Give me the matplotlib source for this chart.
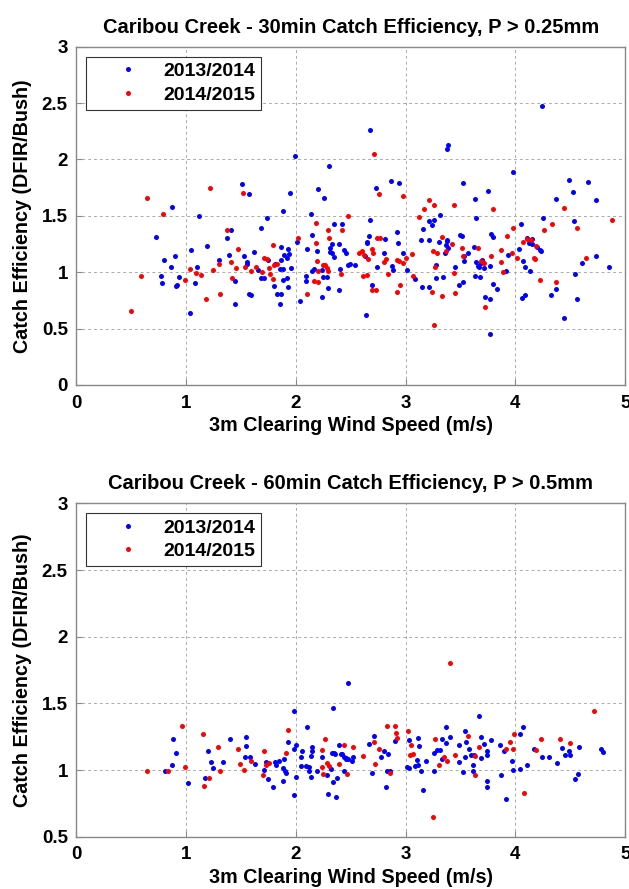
import matplotlib
matplotlib.use('Agg')
import matplotlib.pyplot as plt

plt.rcParams['font.family'] = ['Liberation Sans', 'DejaVu Sans']
plt.rcParams['font.weight'] = 'bold'

# ---- 30 min, P > 0.25mm ----
b30_x = [1.99, 2.30, 1.51, 1.575, 1.945, 2.20, 2.26, 0.87, 1.12, 1.885, 1.74, 2.14, 2.35, 2.42, 1.68, 1.41, 0.73, 1.37, 2.15,
         1.19, 1.05, 1.62, 1.87, 1.925, 2.01, 2.10, 2.19, 2.33, 2.39, 2.31, 2.31, 2.33, 2.35, 2.44, 2.46, 2.48, 0.80, 0.90, 0.86,
         0.77, 0.78, 0.94, 0.91, 0.92, 1.10, 1.08, 1.305, 1.04, 1.39, 1.45, 1.45, 1.53, 1.56, 1.555, 1.57, 1.59, 1.66, 1.68, 1.71,
         1.745, 1.815, 1.86, 1.88, 1.87, 1.895, 1.92, 1.94, 1.80, 1.83, 1.87, 1.86, 1.88, 1.92, 1.93, 1.96, 2.04, 2.09, 2.09, 2.15,
         2.17, 2.24, 2.25, 2.28, 2.29, 2.24, 2.40, 2.39,
         2.68, 3.375, 3.39, 4.245, 3.98, 2.73, 2.87, 2.94, 3.52, 3.63, 3.75, 3.31, 3.21, 3.24, 3.26, 3.155, 3.645, 4.37, 4.49, 4.52,
         4.66, 4.73, 4.25, 4.53, 4.05, 4.11, 4.15, 2.68, 2.67, 2.92, 2.81, 3.50, 3.51, 3.78, 3.80, 3.14, 3.21, 3.38,
         2.49, 2.54, 2.64, 2.65, 2.65, 2.63, 2.69, 2.74, 2.80, 2.88, 2.89, 2.93, 2.98, 3.01, 3.09, 3.28, 3.30, 3.38, 3.37, 3.39,
         3.36, 3.28, 3.34, 3.15, 3.21, 3.45, 3.49, 3.52, 3.53, 3.57, 3.53, 3.62, 3.645, 3.67, 3.69, 3.70, 3.71, 3.66, 3.63, 3.68,
         3.72, 3.765, 3.765, 3.765, 3.80, 3.83, 3.91, 3.935, 4.03, 4.07, 4.085, 4.13, 4.12, 4.15, 4.20, 4.22, 4.23, 4.06, 4.09,
         4.37, 4.32, 4.44, 4.61, 4.54, 4.56, 4.73, 4.85]
b30_y = [2.03, 1.94, 1.78, 1.69, 1.70, 1.74, 1.655, 1.58, 1.50, 1.54, 1.48, 1.52, 1.43, 1.43, 1.39, 1.37, 1.31, 1.30, 1.33,
         1.23, 1.20, 1.18, 1.22, 1.21, 1.27, 1.21, 1.19, 1.25, 1.25, 1.215, 1.18, 1.17, 1.135, 1.20, 1.17, 1.066, 1.105, 1.14, 1.05,
         0.966, 0.90, 0.96, 0.88, 0.89, 1.05, 0.90, 1.105, 0.64, 1.15, 0.92, 0.715, 1.14, 1.09, 1.07, 0.81, 0.80, 1.02, 0.95, 0.95,
         1.11, 1.07, 1.03, 1.026, 1.11, 1.15, 1.13, 1.16, 0.88, 0.81, 0.807, 0.72, 0.93, 0.95, 0.866, 1.04, 0.74, 0.966, 0.92, 1.008,
         1.03, 1.02, 0.955, 0.955, 0.86, 0.78, 1.03, 0.84,
         2.26, 2.09, 2.13, 2.47, 1.89, 1.75, 1.806, 1.79, 1.79, 1.65, 1.72, 1.51, 1.45, 1.42, 1.466, 1.38, 1.48, 1.646, 1.82, 1.71,
         1.80, 1.64, 1.48, 1.45, 1.43, 1.30, 1.294, 1.466, 1.32, 1.36, 1.29, 1.33, 1.32, 1.336, 1.315, 1.285, 1.285, 1.285,
         1.07, 1.06, 0.62, 1.27, 1.256, 1.14, 0.89, 1.05, 1.17, 1.055, 1.02, 1.26, 1.17, 1.02, 0.94, 1.066, 1.265, 1.277, 1.24, 1.217,
         1.17, 0.95, 0.957, 0.87, 0.866, 1.046, 0.884, 0.913, 1.10, 1.17, 1.14, 1.223, 1.09, 1.043, 1.084, 1.105, 1.035, 1.058, 0.964, 0.957,
         0.78, 0.76, 0.45, 1.055, 0.895, 0.85, 1.008, 1.15, 1.206, 1.10, 1.043, 1.01, 1.26, 1.25, 1.226, 1.197, 1.19, 0.774, 0.795,
         0.854, 0.80, 0.594, 1.084, 0.98, 0.765, 1.14, 1.046]
r30_x = [1.22, 1.52, 0.65, 0.79, 2.18, 2.48, 2.29, 2.42, 1.37, 2.02, 2.30,
         1.47, 1.79, 2.18, 0.595, 0.99, 1.04, 1.09, 1.14, 1.18, 1.25, 1.305, 1.31, 0.50, 1.41, 1.42, 1.46, 1.535, 1.59, 1.64, 1.69,
         1.71, 1.74, 1.755, 1.764, 1.79, 1.80, 1.83, 2.10, 2.17, 2.20, 2.20, 2.195, 2.25, 2.27, 2.285, 2.29, 2.415,
         2.71, 2.76, 2.98, 3.795, 3.445, 3.215, 3.26, 3.17, 3.12, 4.44, 4.88, 4.33, 4.26, 4.56, 3.98, 3.92, 2.74, 2.77, 3.33,
         2.62, 2.66, 2.575, 2.60, 2.69, 2.70, 2.61, 2.65, 2.69, 2.73, 2.80, 2.82, 2.84, 2.92, 2.94, 2.92, 2.95, 2.98, 3.00, 3.06,
         3.07, 3.25, 3.29, 3.27, 3.24, 3.33, 3.26, 3.37, 3.42, 3.44, 3.45, 3.51, 3.52, 3.655, 3.69, 3.71, 3.72, 3.78, 3.87, 3.87,
         3.89, 3.965, 4.01, 4.07, 4.11, 4.14, 4.19, 4.17, 4.18, 4.22, 4.37, 4.645]
r30_y = [1.75, 1.70, 1.655, 1.52, 1.44, 1.50, 1.37, 1.37, 1.37, 1.30, 1.30,
         1.21, 1.24, 1.256, 0.97, 0.93, 1.03, 0.99, 0.975, 0.76, 1.017, 1.07, 0.807, 0.66, 1.09, 0.95, 1.035, 1.043, 1.008, 1.05, 1.00,
         1.13, 1.12, 1.035, 0.984, 0.94, 1.06, 1.07, 0.81, 0.92, 0.916, 1.013, 1.10, 1.06, 1.06, 1.035, 1.013, 0.98,
         2.05, 1.69, 1.68, 1.56, 1.60, 1.64, 1.60, 1.56, 1.49, 1.57, 1.46, 1.425, 1.37, 1.39, 1.395, 1.32, 1.306, 1.306, 1.31,
         1.15, 1.12, 1.17, 1.19, 1.205, 1.17, 0.97, 0.975, 0.84, 0.84, 1.09, 1.12, 0.98, 1.11, 1.10, 0.82, 0.89, 1.085, 1.13, 1.16,
         0.97, 1.19, 1.17, 1.046, 0.82, 0.79, 0.53, 1.19, 1.25, 0.996, 0.816, 1.217, 1.146, 1.215, 1.10, 1.08, 0.69, 1.14, 1.20, 1.09,
         1.005, 1.17, 1.126, 1.27, 1.29, 1.288, 1.232, 1.13, 1.114, 0.93, 0.916, 1.13]

# ---- 60 min, P > 0.5mm ----
b60_x = [2.48, 1.98, 2.34, 0.88, 0.91, 0.87, 0.81, 1.02, 1.17, 1.20, 1.23, 1.25, 1.34, 1.40, 1.55, 1.55, 1.535, 1.58, 1.63,
         1.73, 1.71, 1.75, 1.79, 1.81, 1.85, 1.82, 1.89, 1.88, 1.90, 1.91, 1.88, 1.93, 1.98, 2.00, 2.00, 1.98, 2.05, 2.06, 2.10,
         2.05, 2.09, 2.12, 2.135, 2.12, 2.15, 2.15, 2.135, 2.24, 2.195, 2.28, 2.32, 2.33, 2.35, 2.34, 2.29, 2.37, 2.38, 2.39, 2.36,
         2.42, 2.44, 2.46, 2.48, 2.44,
         3.67, 2.90, 2.71, 2.67, 2.80, 2.84, 2.78, 2.415, 2.46, 2.52, 2.51, 2.69, 2.82, 2.83, 2.86, 3.03, 3.11, 3.12, 3.10, 3.01,
         3.03, 3.11, 3.085, 3.14, 3.16, 3.19, 3.26, 3.26, 3.29, 3.31, 3.33, 3.33, 3.37, 3.40, 3.37, 3.49, 3.49, 3.52, 3.54, 3.55,
         3.58, 3.54, 3.60, 3.62, 3.61, 3.61, 3.69, 3.71, 3.74, 3.74, 3.69, 3.78, 3.74, 3.745, 3.86, 3.90, 3.87, 3.91, 3.97, 3.98,
         4.04, 4.07, 4.04, 4.11, 4.17, 4.245, 4.31, 4.38, 4.42, 4.49, 4.45, 4.495, 4.58, 4.57, 4.54, 4.78, 4.795]
b60_y = [1.655, 1.44, 1.465, 1.23, 1.13, 1.04, 0.99, 0.90, 0.94, 1.14, 1.06, 1.015, 1.06, 1.23, 1.25, 1.18, 1.095, 1.10, 1.045,
         1.06, 0.998, 0.935, 0.87, 1.06, 1.07, 1.035, 1.085, 1.015, 0.99, 0.975, 0.92, 1.21, 1.16, 1.19, 0.95, 0.815, 1.10, 1.14, 1.325,
         1.03, 1.03, 1.025, 0.945, 0.99, 1.17, 1.14, 1.105, 1.10, 0.99, 0.96, 1.007, 1.13, 1.125, 0.91, 0.82, 0.80, 0.94, 1.19, 1.12,
         1.12, 1.095, 1.08, 1.08, 0.995,
         1.405, 1.22, 1.255, 1.195, 1.14, 1.12, 1.095, 1.12, 1.09, 1.10, 1.07, 0.975, 0.87, 0.99, 0.99, 1.225, 1.24, 1.18, 1.075, 1.02,
         1.013, 1.04, 1.03, 0.995, 0.85, 1.07, 0.995, 1.13, 1.15, 1.15, 1.23, 1.085, 1.32, 1.25, 1.205, 1.19, 1.06, 0.987, 1.29, 1.21,
         1.16, 1.10, 1.11, 1.11, 1.035, 0.995, 1.245, 1.195, 1.14, 1.11, 1.09, 1.225, 0.915, 0.875, 1.185, 1.14, 0.96, 0.78, 1.07, 1.002,
         1.27, 1.32, 1.005, 1.035, 1.16, 1.10, 1.10, 1.055, 1.165, 1.14, 1.11, 1.11, 1.17, 0.97, 0.93, 1.16, 1.135]
r60_x = [0.96, 1.156, 0.65, 0.84, 0.99, 1.16, 1.21, 1.29, 1.31, 1.47, 1.49, 1.53, 1.59, 1.715, 1.73, 1.755, 1.70, 1.915, 1.93,
         2.24, 2.27, 2.24, 2.25, 2.28, 2.30, 2.39, 2.44, 2.47,
         3.40, 4.72, 2.83, 2.905, 2.91, 2.92, 2.71, 2.76, 2.61, 2.52, 2.72, 2.86, 3.02, 3.05, 3.04, 3.07, 3.25, 3.27, 3.35, 3.38,
         3.30, 3.45, 3.57, 3.63, 3.63, 3.67, 3.91, 3.95, 3.975, 3.99, 4.08, 4.23, 4.19, 4.41, 4.495]
r60_y = [1.33, 1.27, 0.99, 0.99, 1.02, 0.88, 0.94, 1.17, 0.995, 1.16, 1.045, 1.002, 1.07, 1.14, 1.04, 1.05, 0.965, 1.13, 1.30,
         1.15, 1.23, 1.025, 0.97, 1.05, 1.03, 1.047, 1.19, 0.97,
         1.80, 1.44, 1.33, 1.33, 1.28, 1.24, 1.21, 1.16, 1.105, 1.17, 1.045, 0.98, 1.29, 1.185, 1.11, 1.12, 0.647, 1.235, 1.10, 1.07,
         1.04, 1.11, 1.257, 1.107, 0.96, 1.17, 1.16, 1.21, 1.155, 1.27, 0.83, 1.23, 1.15, 1.23, 1.205]

panels = [
    ('Caribou Creek - 30min Catch Efficiency, P > 0.25mm', b30_x, b30_y, r30_x, r30_y, (0, 3), [0, 0.5, 1, 1.5, 2, 2.5, 3]),
    ('Caribou Creek - 60min Catch Efficiency, P > 0.5mm', b60_x, b60_y, r60_x, r60_y, (0.5, 3), [0.5, 1, 1.5, 2, 2.5, 3]),
]
ylabels_txt = {0: '0', 0.5: '0.5', 1: '1', 1.5: '1.5', 2: '2', 2.5: '2.5', 3: '3'}

fig = plt.figure(figsize=(6.29, 8.89), dpi=100)
boxes = [[0.121, 0.567, 0.873, 0.3805], [0.121, 0.0588, 0.873, 0.375]]

for box, (title, bx, by, rx, ry, ylim, yt) in zip(boxes, panels):
    ax = fig.add_axes(box)
    ax.plot(bx, by, 'o', color='#0000ff', ms=3.6, mec='none', label='2013/2014')
    ax.plot(rx, ry, 'o', color='#ff0000', ms=3.6, mec='none', label='2014/2015')
    ax.set_xlim(0, 5)
    ax.set_ylim(*ylim)
    ax.set_xticks([0, 1, 2, 3, 4, 5])
    ax.set_yticks(yt)
    ax.set_yticklabels([ylabels_txt[v] for v in yt])
    ax.grid(True, ls=(0, (3, 3)), color='#aaaaaa', lw=0.7)
    ax.set_axisbelow(True)
    for s in ax.spines.values():
        s.set_color('#888888')
        s.set_linewidth(1.0)
    ax.tick_params(direction='in', length=4, color='#888888', labelsize=13.5)
    ax.tick_params(axis='y', pad=6)
    ax.tick_params(axis='x', pad=7)
    for lab in ax.get_xticklabels() + ax.get_yticklabels():
        lab.set_fontweight('bold')
    ax.set_title(title, fontsize=14.5, fontweight='bold', pad=10)
    ax.set_xlabel('3m Clearing Wind Speed (m/s)', fontsize=14.2, fontweight='bold', labelpad=3)
    ax.set_ylabel('Catch Efficiency (DFIR/Bush)', fontsize=14.2, fontweight='bold', labelpad=7)
    leg = ax.legend(loc='upper left', bbox_to_anchor=(0.018, 0.97), borderaxespad=0, fancybox=False,
                    edgecolor='#333333', framealpha=1, fontsize=14, handlelength=3.7, handletextpad=0.0,
                    borderpad=0.3, labelspacing=0.3, numpoints=1)
    leg.get_frame().set_linewidth(0.8)

fig.savefig('out.png', dpi=100)
